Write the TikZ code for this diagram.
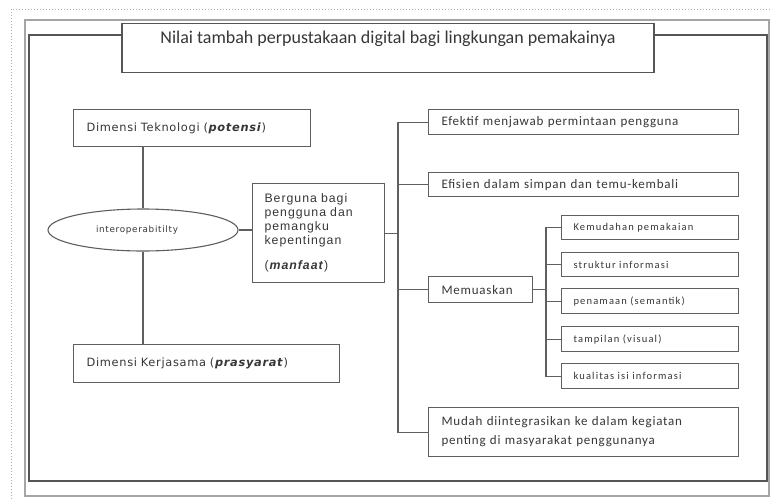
\documentclass[tikz,border=0pt]{standalone}
\usepackage{fontspec}
\usetikzlibrary{shapes.geometric}
\newfontfamily\calfont{Carlito}
\newfontfamily\calsp{Carlito}[LetterSpace=6]
\newfontfamily\calwide{Carlito}[LetterSpace=11]
\newfontfamily\dvfont{DejaVu Sans}[LetterSpace=6]
\newfontfamily\dvwide{DejaVu Sans}[LetterSpace=8]
\newfontfamily\libfont{Liberation Sans}[LetterSpace=8]
\definecolor{lc}{RGB}{95,95,95}
\definecolor{tc}{RGB}{55,55,55}
\definecolor{framec}{RGB}{165,165,165}
\definecolor{innerc}{RGB}{85,85,85}
\definecolor{dotc}{RGB}{175,175,175}
\tikzset{
  box/.style={draw=lc, line width=1.1pt, fill=white, inner xsep=13pt, inner ysep=0pt,
    align=left, anchor=north west, text=tc},
  mainbox/.style={box, text width=284pt, font=\calsp\fontsize{13}{19}\selectfont},
  subbox/.style={box, inner xsep=12pt, text width=153pt, font=\calwide\fontsize{10.5}{12}\selectfont},
  dimbox/.style={box, font=\dvfont\fontsize{11.4}{13}\selectfont},
  conn/.style={draw=lc, line width=1.1pt}
}
\begin{document}
\begin{tikzpicture}[x=1pt,y=-1pt]
\useasboundingbox (0,0) rectangle (772,499);
% page frame
\draw[dotc, line width=1pt, dotted] (11,499) -- (11,9) -- (772,9);
\draw[framec, line width=1.5pt] (25,20) rectangle (769,496);
\draw[innerc, line width=1.1pt] (29,35) rectangle (767,481);
% title
\node[draw=innerc, line width=1.1pt, fill=white, inner sep=0pt, minimum width=532pt,
  text height=20pt, text depth=29pt, anchor=north, text=tc,
  font=\calfont\fontsize{18}{20}\selectfont] (title) at (388,23)
  {Nilai tambah perpustakaan digital bagi lingkungan pemakainya};
% left column
\node[dimbox, text width=211pt, minimum height=37pt] (tek) at (73,109)
  {Dimensi Teknologi (\textbf{\textit{potensi}})};
\node[draw=lc, line width=1.1pt, ellipse, fill=white, minimum width=190pt, minimum height=42pt,
  inner sep=0pt, text=tc, font=\dvwide\fontsize{8.8}{10}\selectfont] (ell) at (143,230)
  {\hspace*{-12pt}interoperabitilty};
\node[dimbox, text width=240pt, minimum height=38pt] (kerja) at (73,344)
  {Dimensi Kerjasama (\textbf{\textit{prasyarat}})};
\node[box, inner xsep=12pt, text width=108pt, minimum height=99pt,
  font=\libfont\fontsize{12.3}{14}\selectfont] (berg) at (252,183)
  {Berguna bagi\\pengguna dan\\pemangku\\kepentingan\\[11pt](\textbf{\textit{manfaat}})};
% right column
\node[mainbox, minimum height=25pt] (efk) at (428,109) {Efektif menjawab permintaan pengguna};
\node[mainbox, minimum height=24pt] (efs) at (428,172) {Efisien dalam simpan dan temu-kembali};
\node[box, text width=78pt, minimum height=26pt, font=\calsp\fontsize{13}{15}\selectfont] (mem) at (428,276) {Memuaskan};
\node[mainbox, minimum height=49pt] (mud) at (428,407)
  {Mudah diintegrasikan ke dalam kegiatan\\penting di masyarakat penggunanya};
\node[subbox, minimum height=24pt] (kem) at (561,215) {Kemudahan pemakaian};
\node[subbox, minimum height=24pt] (str) at (561,252) {struktur informasi};
\node[subbox, minimum height=25pt] (pen) at (561,288) {penamaan (semantik)};
\node[subbox, minimum height=25pt] (tam) at (561,326) {tampilan (visual)};
\node[subbox, minimum height=25pt] (kua) at (561,363) {kualitas isi informasi};
% trunk coordinates
\coordinate (tr) at (398,0);
\coordinate (st) at (546,0);
% connectors left
\draw[conn] (tek.south -| ell) -- (ell);
\draw[conn] (ell) -- (kerja.north -| ell);
\draw[conn] (ell.east) -- (ell.east -| berg.west);
% main trunk
\draw[conn] (efk.west) -- (efk.west -| tr) -- (mud.west -| tr) -- (mud.west);
\draw[conn] (efs.west) -- (efs.west -| tr);
\draw[conn] (mem.west) -- (mem.west -| tr);
\draw[conn] (berg.east) -- (berg.east -| tr);
% sub trunk
\draw[conn] (kem.west) -- (kem.west -| st) -- (kua.west -| st) -- (kua.west);
\draw[conn] (str.west) -- (str.west -| st);
\draw[conn] (pen.west) -- (pen.west -| st);
\draw[conn] (tam.west) -- (tam.west -| st);
\draw[conn] (mem.east) -- (mem.east -| st);
\end{tikzpicture}
\end{document}
